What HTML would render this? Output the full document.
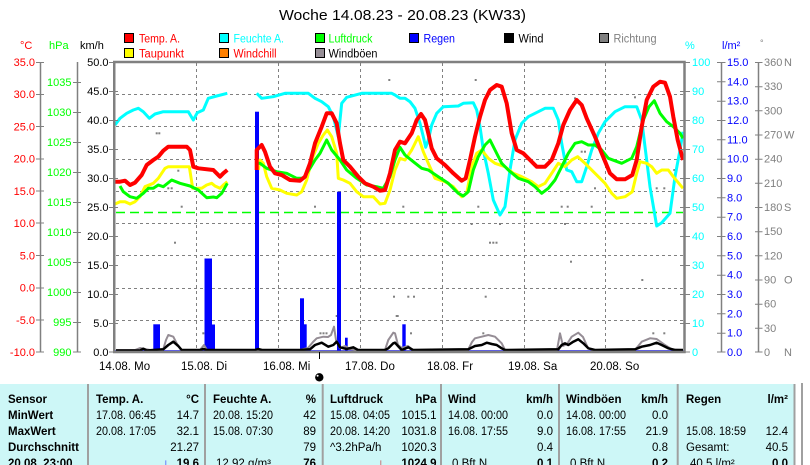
<!DOCTYPE html>
<html><head><meta charset="utf-8"><style>
html,body{margin:0;padding:0;background:#fff;}
body{width:810px;height:465px;overflow:hidden;}
svg{display:block;font-family:"Liberation Sans",Arial,sans-serif;}
</style></head><body>
<svg width="810" height="465" viewBox="0 0 810 465" xmlns="http://www.w3.org/2000/svg">
<rect x="0" y="0" width="810" height="465" fill="#fff"/>
<!-- title -->
<text x="279" y="20" font-size="15" fill="#000" textLength="247" lengthAdjust="spacingAndGlyphs">Woche 14.08.23 - 20.08.23 (KW33)</text>
<!-- legend -->
<g font-size="11.5" stroke-width="1">
<rect x="124.5" y="33.5" width="9" height="9" fill="#ff0000" stroke="#000"/>
<text x="139" y="42.5" fill="#ff0000" textLength="41" lengthAdjust="spacingAndGlyphs">Temp. A.</text>
<rect x="219.5" y="33.5" width="9" height="9" fill="#00ffff" stroke="#000"/>
<text x="233.5" y="42.5" fill="#00ffff" textLength="50.5" lengthAdjust="spacingAndGlyphs">Feuchte A.</text>
<rect x="315.5" y="33.5" width="9" height="9" fill="#00ff00" stroke="#000"/>
<text x="328.5" y="42.5" fill="#00ff00" textLength="44" lengthAdjust="spacingAndGlyphs">Luftdruck</text>
<rect x="409.5" y="33.5" width="9" height="9" fill="#0000ff" stroke="#000"/>
<text x="423.5" y="42.5" fill="#0000ff" textLength="31.5" lengthAdjust="spacingAndGlyphs">Regen</text>
<rect x="504.5" y="33.5" width="9" height="9" fill="#000" stroke="#000"/>
<text x="518.5" y="42.5" fill="#000" textLength="25" lengthAdjust="spacingAndGlyphs">Wind</text>
<rect x="599.5" y="33.5" width="9" height="9" fill="#808080" stroke="#000"/>
<text x="613.5" y="42.5" fill="#808080" textLength="43" lengthAdjust="spacingAndGlyphs">Richtung</text>
<rect x="124.5" y="48.5" width="9" height="9" fill="#ffff00" stroke="#000"/>
<text x="139" y="57.5" fill="#ff0000" textLength="45" lengthAdjust="spacingAndGlyphs">Taupunkt</text>
<rect x="219.5" y="48.5" width="9" height="9" fill="#ff8000" stroke="#000"/>
<text x="233.5" y="57.5" fill="#ff0000" textLength="43" lengthAdjust="spacingAndGlyphs">Windchill</text>
<rect x="315.5" y="48.5" width="9" height="9" fill="#958d95" stroke="#000"/>
<text x="328.5" y="57.5" fill="#000" textLength="49" lengthAdjust="spacingAndGlyphs">Windböen</text>
</g>
<!-- unit labels -->
<g font-size="11">
<text x="20" y="49" fill="#ff0000">°C</text>
<text x="49" y="49" fill="#00ff00">hPa</text>
<text x="80" y="49" fill="#000">km/h</text>
<text x="685" y="49" fill="#00ffff">%</text>
<text x="722" y="49" fill="#0000ff">l/m²</text>
<text x="760" y="46" fill="#808080" font-size="9">°</text>
</g>

<!-- grid -->
<g stroke="#808080" stroke-width="1" stroke-dasharray="3,3">
<line x1="116" y1="94.5" x2="683" y2="94.5"/>
<line x1="116" y1="126.5" x2="683" y2="126.5"/>
<line x1="116" y1="159.5" x2="683" y2="159.5"/>
<line x1="116" y1="191.5" x2="683" y2="191.5"/>
<line x1="116" y1="223.5" x2="683" y2="223.5"/>
<line x1="116" y1="255.5" x2="683" y2="255.5"/>
<line x1="116" y1="288.5" x2="683" y2="288.5"/>
<line x1="116" y1="320.5" x2="683" y2="320.5"/>
<line x1="196.5" y1="63" x2="196.5" y2="351"/>
<line x1="278.5" y1="63" x2="278.5" y2="351"/>
<line x1="360.5" y1="63" x2="360.5" y2="351"/>
<line x1="442.5" y1="63" x2="442.5" y2="351"/>
<line x1="524.5" y1="63" x2="524.5" y2="351"/>
<line x1="605.5" y1="63" x2="605.5" y2="351"/>
</g>
<!-- 1013 hPa line -->
<line x1="116" y1="212.5" x2="683" y2="212.5" stroke="#00ff00" stroke-width="1.5" stroke-dasharray="9,5"/>

<!-- direction dots -->
<g fill="#808080">
<rect x="155.7" y="132.3" width="2" height="2"/><rect x="158.3" y="132.3" width="2" height="2"/>
<rect x="177.3" y="169.7" width="2" height="2"/><rect x="167.3" y="187.3" width="2" height="2"/>
<rect x="170.7" y="187.3" width="2" height="2"/><rect x="180.7" y="205.7" width="2" height="2"/>
<rect x="174" y="241.7" width="2" height="2"/><rect x="314" y="205.7" width="2" height="2"/>
<rect x="388.3" y="79" width="2" height="2"/><rect x="393" y="295.7" width="2" height="2"/>
<rect x="395.7" y="315" width="2" height="2"/><rect x="202.3" y="332.3" width="2" height="2"/>
<rect x="319.5" y="332.3" width="2" height="2"/><rect x="322.5" y="332.3" width="2" height="2"/>
<rect x="325.5" y="332.3" width="2" height="2"/><rect x="335.7" y="315" width="2" height="2"/>
<rect x="474.7" y="79" width="2" height="2"/><rect x="402.3" y="205.7" width="2" height="2"/>
<rect x="477.3" y="205.7" width="2" height="2"/><rect x="470.7" y="223" width="2" height="2"/>
<rect x="499" y="223" width="2" height="2"/><rect x="489" y="241.7" width="2" height="2"/>
<rect x="492.3" y="241.7" width="2" height="2"/><rect x="495.5" y="241.7" width="2" height="2"/>
<rect x="560.7" y="205.7" width="2" height="2"/><rect x="566.7" y="205.7" width="2" height="2"/>
<rect x="590.7" y="205.7" width="2" height="2"/><rect x="564" y="223" width="2" height="2"/>
<rect x="570" y="260.7" width="2" height="2"/><rect x="574" y="97.3" width="2" height="2"/>
<rect x="580.7" y="150.7" width="2" height="2"/><rect x="584" y="150.7" width="2" height="2"/>
<rect x="594" y="187.3" width="2" height="2"/><rect x="634" y="96.3" width="2" height="2"/>
<rect x="641.3" y="279" width="2" height="2"/><rect x="655.7" y="187.3" width="2" height="2"/>
<rect x="663.3" y="187.3" width="2" height="2"/><rect x="673.3" y="169" width="2" height="2"/>
<rect x="407.3" y="295.7" width="2" height="2"/><rect x="413" y="295.7" width="2" height="2"/>
<rect x="484.7" y="295.7" width="2" height="2"/><rect x="396.7" y="315" width="2" height="2"/>
<rect x="410" y="332.3" width="2" height="2"/><rect x="482.3" y="332.3" width="2" height="2"/>
<rect x="652.3" y="332.3" width="2" height="2"/><rect x="663.3" y="332.3" width="2" height="2"/>
</g>

<!-- rain bars -->
<g fill="#0000ff">
<rect x="153.3" y="324.3" width="6.7" height="27.7"/>
<rect x="204.5" y="258.5" width="7.5" height="93.5"/>
<rect x="212" y="324.5" width="3" height="27.5"/>
<rect x="255" y="111.7" width="4" height="240.3"/>
<rect x="300" y="298.3" width="4" height="53.7"/>
<rect x="304" y="324.3" width="2.7" height="27.7"/>
<rect x="337" y="191.7" width="4" height="160.3"/>
<rect x="345" y="337.7" width="2.7" height="14.3"/>
<rect x="402.3" y="324.3" width="3.4" height="27.7"/>
</g>
<line x1="115" y1="351" x2="684" y2="351" stroke="#0000ff" stroke-width="1.5"/>

<!-- gusts -->
<polyline fill="none" stroke="#958d95" stroke-width="2" stroke-linejoin="round" points="116,350 135,350 140,348 145,349 150,350 163,350 166,340 168.3,335 173.3,336.7 177,344 181,350 200,350 204,345 207,350 255,350 300,350 308,348 313,342 316.7,338.3 323.3,336.7 328,337 331,335 334,326.7 336,340 340,348 345,346 350,349 355,350 385,350 388.3,340 393.3,332.7 395,333.3 398,345 402,348 408,346 413,350 468,350 472,342 475,338.3 481.7,336.7 488.3,335 495,336.7 501.7,343.3 505,350 557,350 560,333.3 563,346 567,344 571.7,336.7 578.3,332.7 583,337 588,348 592,350 635,350 641.7,341.7 650,338.3 656.7,339 665,345 672,349.5 683,350"/>
<!-- wind -->
<polyline fill="none" stroke="#000" stroke-width="2.5" stroke-linejoin="round" points="116,350.5 140,350.5 143.3,348.7 146.7,350.5 163.3,349.3 168.3,345 173.3,341.7 178.3,346 181.7,350 200,350 203.3,349 207,350 255,350 258,349 262,350 300,350 310,349.3 315,345 321.7,342.7 328.3,346.7 333.3,345 336.7,341.7 340,347.3 346.7,349 353.3,347.3 358,350 385,350 388.3,348.3 393.3,343.3 395,342.7 398,346 401.7,350 408.3,347.3 413,350 468.3,349.3 475,346 481.7,345 486.7,342.7 491.7,344 496.7,345 501.7,348.3 505,350 558.3,349.3 561.7,345 565,343.3 568.3,345 573.3,341.7 578.3,339.3 583.3,343.3 588.3,348.3 595,350 635,349.3 641.7,346.7 650,345 656.7,342.7 661.7,345 668.3,348.3 675,350 683,350"/>

<!-- humidity -->
<g fill="none" stroke="#00ffff" stroke-width="3" stroke-linejoin="round">
<polyline points="115,125 120,118.3 126.7,113.3 133.3,110 138.3,108.3 143.3,111.7 149.3,118.3 155,114 163.3,111.7 188.3,111.7 193.3,120 197.3,112.7 203.3,110 208.3,98.3 216.7,96 227.3,93.3"/>
<polyline points="256.7,93.3 261.7,98.3 273.3,96.7 285,93.3 308.3,93.3 315,98.3 321.7,101.7 328.3,106.7 333.3,116.7 338.3,136.7 341.7,103.3 346.7,97.3 361.7,93.3 391.7,93.3 395,95 400,98.3 405,98.3 410,101.7 415,108.3 420,123.3 423.3,136.7 425.7,147.3 428.3,140 431.7,125 436.7,113.3 443.3,106.7 458.3,106 463.3,103.3 473.3,102.7 476.7,110 480,126.7 483.3,150 488.3,173.3 493.3,200 500,215 505,206.7 510,170 515,140 521.7,123.3 528.3,116.7 538.3,111.7 545,108.3 553.3,108.3 558.3,120 561.7,143.3 566.7,170 571.7,171.7 576.7,181.7 581.7,181.7 586.7,166.7 591.7,150 598.3,133.3 605,121.7 615,111.7 625,106.7 636.7,106.7 641.7,120 645,146.7 650,186.7 656.7,226 661.7,222.7 670,213.3 675,176.7 680,150 683,131.7"/>
</g>
<!-- dew point -->
<g fill="none" stroke="#ffff00" stroke-width="3" stroke-linejoin="round">
<polyline points="115,204 120,201.7 125,201.7 130,204 135,201.7 140,196.7 145,186.7 153.3,183.3 158.3,178.3 165,168.3 168.3,166.7 189.3,166.7 192.7,188.3 201.7,188.3 206.7,185 211.7,183.3 215,186 220,188.3 223.3,185 227.3,181.7"/>
<polyline points="258.3,170 260,160 263.3,163.3 266.7,176.7 271.7,188.3 280,190 286.7,193.3 296.7,195 301.7,191.7 306.7,180 311.7,160 318.3,143.3 323.3,135 327.3,130 331.7,136.7 336.7,153.3 338.3,178.3 343.3,180 350,183.3 356.7,191.7 363.3,196.7 373.3,196.7 380,204 385,203.3 390,190 395,170 400,158.3 405,160 411.7,150 418.3,136.7 423.3,151.7 428.3,163.3 435,178.3 445,181.7 453.3,186.7 461.7,196.7 466.7,193.3 471.7,166.7 476.7,153.3 481.7,150 488.3,158.3 495,163.3 505,166.7 513.3,173.3 521.7,176.7 531.7,181.7 538.3,186.7 545,183.3 551.7,173.3 558.3,163.3 565,166.7 571.7,160 577.7,156.7 585,163.3 595,173.3 605,183.3 611.7,193.3 616.7,198.3 625,196.7 632.3,191.7 636.7,173.3 640,161.7 646.7,163.3 651.7,166.7 656.7,173.3 661.7,170 668.3,170 673.3,176.7 683,188.3"/>
</g>
<!-- pressure -->
<g fill="none" stroke="#00ff00" stroke-width="3" stroke-linejoin="round">
<polyline points="120,186 123.3,191.7 130,196.7 136.7,198.3 143.3,193.3 148.3,188.3 153.3,188.3 158.3,185 163.3,186.7 171.7,180 180,183.3 190,186 198.3,190 206.7,197.7 213.3,197 216.7,197.7 221.7,193.3 227.3,183.3"/>
<polyline points="258,163.3 260,163.3 266.7,168.3 276.7,171.7 286.7,173.3 296.7,178.3 303.3,178.3 310,168.3 315,160 320,153.3 326.7,140 331.7,150 340,160 346.7,170 356.7,178.3 366.7,185 376.7,186.7 383.3,188.3 390,176.7 395,160 400,147.3 405,155 413.3,161.7 421.7,168.3 428.3,170 438.3,176.7 448.3,183.3 458.3,193.3 463.3,196 468.3,191.7 473.3,170 478.3,156.7 485,145 490,140 495,150 501.7,163.3 508.3,170 518.3,178.3 528.3,181.7 535,186.7 541.7,193.3 548.3,188.3 555,180 561.7,166.7 568.3,153.3 575,143.3 581.7,141.7 588.3,145 595,145 601.7,150 608.3,158.3 621.7,163.3 631.7,158.3 636.7,146.7 643.3,120 649,106.7 654.3,100.7 660,113.3 666.7,121.7 673.3,126.7 680,133.3 683,138.3"/>
</g>
<!-- temperature -->
<g fill="none" stroke="#ff0000" stroke-width="4" stroke-linejoin="round">
<polyline points="115,181.7 120,181.7 125,180.7 130,185 135,182.7 141.7,175 146.7,165 153.3,160 158.3,156.7 163.3,150.7 168.3,146.7 186.7,146.7 190,150 193.3,166.7 198.3,168.3 213.3,170 220,176.7 223.3,173.3 227.3,170"/>
<polyline points="256.7,170 256.7,150 261.7,145 265,151.7 270,166.7 275,173.3 281.7,175 290,180 300,180.7 305,176.7 310,163.3 315,143.3 321.7,126.7 326.7,113.3 331.7,113.3 336.7,123.3 340,143.3 343.3,160 350,166.7 358.3,176.7 365,183.3 373.3,186.7 380,190.7 385,190 390,173.3 395,150 400,141.7 405,143.3 411.7,133.3 416.7,120 421,114 425,120 428.3,133.3 431.7,148.3 436.7,158.3 445,165 453.3,173.3 461.7,180.7 465.7,178.3 470,160 475,136.7 480,116.7 485,100 490,90 496.7,85 501.7,86.7 506.7,103.3 511.7,133.3 516.7,150 523.3,153.3 530,160 536.7,166.7 545,166.7 551.7,160 558.3,143.3 563.3,125 570,110 576.7,100 581.7,105 586.7,118.3 595,136.7 601.7,153.3 610,173.3 616.7,179.3 625,179.3 632.3,175 636.7,160 641.7,126.7 646.7,100 653.3,86.7 660,81.7 665,82.7 670,96.7 673.3,116.7 677.7,140 683,160"/>
</g>

<!-- plot frame -->
<rect x="114.25" y="62" width="570.25" height="290" fill="none" stroke="#808080" stroke-width="2.5"/>

<!-- left axes -->
<g stroke="#808080" stroke-width="1.5">
<line x1="40.5" y1="62" x2="40.5" y2="352"/>
<line x1="77.5" y1="62" x2="77.5" y2="352"/>
<line x1="721.5" y1="62" x2="721.5" y2="352"/>
<line x1="758.5" y1="62" x2="758.5" y2="352"/>
</g>
<g stroke="#808080" stroke-width="1">
<!-- C ticks -->
<path d="M36 62.5H44M36 94.5H44M36 126.5H44M36 159H44M36 191H44M36 223H44M36 255.5H44M36 288H44M36 320H44M36 352H44"/>
<!-- hPa ticks -->
<path d="M73 82.5H81M73 112.5H81M73 142.5H81M73 172.5H81M73 202.5H81M73 232.5H81M73 262.5H81M73 292.5H81M73 322.5H81M73 352H81"/>
<!-- km/h ticks -->
<path d="M109 62.5H118M109 91.5H118M109 120.5H118M109 149.5H118M109 178.5H118M109 207.5H118M109 236.5H118M109 265.5H118M109 294.5H118M109 323.5H118M109 352H118"/>
<!-- % ticks -->
<path d="M680 62.5H690M680 91.5H690M680 120.5H690M680 149.5H690M680 178.5H690M680 207.5H690M680 236.5H690M680 265.5H690M680 294.5H690M680 323.5H690M680 352H690"/>
<!-- l/m2 ticks -->
<path d="M717 62.5H725.5M717 81.8H725.5M717 101.2H725.5M717 120.5H725.5M717 139.8H725.5M717 159.2H725.5M717 178.5H725.5M717 197.8H725.5M717 217.2H725.5M717 236.5H725.5M717 255.8H725.5M717 275.2H725.5M717 294.5H725.5M717 313.8H725.5M717 333.2H725.5M717 352H725.5"/>
<!-- deg ticks -->
<path d="M755 62.5H762.5M755 86.7H762.5M755 110.8H762.5M755 135H762.5M755 159.2H762.5M755 183.3H762.5M755 207.5H762.5M755 231.7H762.5M755 255.8H762.5M755 280H762.5M755 304.2H762.5M755 328.3H762.5M755 352H762.5"/>
</g>
<g font-size="11" fill="#ff0000" text-anchor="end">
<text x="35" y="66">35.0</text><text x="35" y="98.2">30.0</text><text x="35" y="130.4">25.0</text>
<text x="35" y="162.7">20.0</text><text x="35" y="194.9">15.0</text><text x="35" y="227.1">10.0</text>
<text x="35" y="259.3">5.0</text><text x="35" y="291.6">0.0</text><text x="35" y="323.8">-5.0</text>
<text x="35" y="356">-10.0</text>
</g>
<g font-size="11" fill="#00ff00" text-anchor="end">
<text x="71.5" y="86">1035</text><text x="71.5" y="116">1030</text><text x="71.5" y="146">1025</text>
<text x="71.5" y="176">1020</text><text x="71.5" y="206">1015</text><text x="71.5" y="236">1010</text>
<text x="71.5" y="266">1005</text><text x="71.5" y="296">1000</text><text x="71.5" y="326">995</text>
<text x="71.5" y="356">990</text>
</g>
<g font-size="11" fill="#000" text-anchor="end">
<text x="108.5" y="66">50.0</text><text x="108.5" y="95">45.0</text><text x="108.5" y="124">40.0</text>
<text x="108.5" y="153">35.0</text><text x="108.5" y="182">30.0</text><text x="108.5" y="211">25.0</text>
<text x="108.5" y="240">20.0</text><text x="108.5" y="269">15.0</text><text x="108.5" y="298">10.0</text>
<text x="108.5" y="327">5.0</text><text x="108.5" y="356">0.0</text>
</g>
<g font-size="11" fill="#00ffff">
<text x="692" y="66">100</text><text x="692" y="95">90</text><text x="692" y="124">80</text>
<text x="692" y="153">70</text><text x="692" y="182">60</text><text x="692" y="211">50</text>
<text x="692" y="240">40</text><text x="692" y="269">30</text><text x="692" y="298">20</text>
<text x="692" y="327">10</text><text x="692" y="356">0</text>
</g>
<g font-size="11" fill="#0000ff">
<text x="727" y="66">15.0</text><text x="727" y="85.3">14.0</text><text x="727" y="104.7">13.0</text>
<text x="727" y="124">12.0</text><text x="727" y="143.3">11.0</text><text x="727" y="162.7">10.0</text>
<text x="727" y="182">9.0</text><text x="727" y="201.3">8.0</text><text x="727" y="220.7">7.0</text>
<text x="727" y="240">6.0</text><text x="727" y="259.3">5.0</text><text x="727" y="278.7">4.0</text>
<text x="727" y="298">3.0</text><text x="727" y="317.3">2.0</text><text x="727" y="336.7">1.0</text>
<text x="727" y="356">0.0</text>
</g>
<g font-size="11" fill="#808080">
<text x="764" y="66">360</text><text x="784" y="66">N</text>
<text x="764" y="90.2">330</text><text x="764" y="114.3">300</text>
<text x="764" y="138.5">270</text><text x="784" y="138.5">W</text>
<text x="764" y="162.7">240</text><text x="764" y="186.8">210</text>
<text x="764" y="211">180</text><text x="784" y="211">S</text>
<text x="764" y="235.2">150</text><text x="764" y="259.3">120</text>
<text x="764" y="283.5">90</text><text x="784" y="283.5">O</text>
<text x="764" y="307.7">60</text><text x="764" y="331.8">30</text>
<text x="764" y="356">0</text><text x="784" y="356">N</text>
</g>

<!-- x labels -->
<g font-size="11.5" fill="#000">
<text x="99" y="370">14.08. Mo</text>
<text x="181" y="370">15.08. Di</text>
<text x="263" y="370">16.08. Mi</text>
<text x="345" y="370">17.08. Do</text>
<text x="427" y="370">18.08. Fr</text>
<text x="508" y="370">19.08. Sa</text>
<text x="590" y="370">20.08. So</text>
</g>
<line x1="319.5" y1="352" x2="319.5" y2="359" stroke="#000" stroke-width="1"/>
<circle cx="319.3" cy="377.3" r="4.2" fill="#000"/>
<circle cx="317.6" cy="375.8" r="1" fill="#fff"/>

<!-- table -->
<rect x="0" y="384" width="794" height="81" fill="#cdf7f7"/>
<g stroke="#a0a0a0" stroke-width="2">
<line x1="88" y1="384" x2="88" y2="465"/>
<line x1="205" y1="384" x2="205" y2="465"/>
<line x1="322.7" y1="384" x2="322.7" y2="465"/>
<line x1="441" y1="384" x2="441" y2="465"/>
<line x1="559" y1="384" x2="559" y2="465"/>
<line x1="677.7" y1="384" x2="677.7" y2="465"/>
<line x1="794.5" y1="384" x2="794.5" y2="465"/>
<line x1="802" y1="383" x2="802" y2="465"/>
</g>
<g font-size="11.5" fill="#000" font-weight="bold">
<text x="8" y="403">Sensor</text>
<text x="8" y="419">MinWert</text>
<text x="8" y="435">MaxWert</text>
<text x="8" y="451">Durchschnitt</text>
<text x="8" y="467">20.08.  23:00</text>
<text x="96" y="403">Temp. A.</text>
<text x="213" y="403">Feuchte A.</text>
<text x="330" y="403">Luftdruck</text>
<text x="448" y="403">Wind</text>
<text x="566" y="403">Windböen</text>
<text x="686" y="403">Regen</text>
</g>
<g font-size="11.5" fill="#000" font-weight="bold" text-anchor="end">
<text x="199" y="403">°C</text>
<text x="316" y="403">%</text>
<text x="436.5" y="403">hPa</text>
<text x="553" y="403">km/h</text>
<text x="668" y="403">km/h</text>
<text x="788" y="403">l/m²</text>
<text x="199" y="467">19.6</text>
<text x="316" y="467">76</text>
<text x="436.5" y="467">1024.9</text>
<text x="553" y="467">0.1</text>
<text x="668" y="467">0.2</text>
<text x="788" y="467">0.0</text>
</g>
<g font-size="11.5" fill="#000" xml:space="preserve">
<text x="96" y="419" textLength="60" lengthAdjust="spacingAndGlyphs">17.08.  06:45</text>
<text x="96" y="435" textLength="60" lengthAdjust="spacingAndGlyphs">20.08.  17:05</text>
<text x="213" y="419" textLength="60" lengthAdjust="spacingAndGlyphs">20.08.  15:20</text>
<text x="213" y="435" textLength="60" lengthAdjust="spacingAndGlyphs">15.08.  07:30</text>
<text x="216" y="467">12.92 g/m³</text>
<text x="330" y="419" textLength="60" lengthAdjust="spacingAndGlyphs">15.08.  04:05</text>
<text x="330" y="435" textLength="60" lengthAdjust="spacingAndGlyphs">20.08.  14:20</text>
<text x="330" y="451">^3.2hPa/h</text>
<text x="448" y="419" textLength="60" lengthAdjust="spacingAndGlyphs">14.08.  00:00</text>
<text x="448" y="435" textLength="60" lengthAdjust="spacingAndGlyphs">16.08.  17:55</text>
<text x="452" y="467">0 Bft N</text>
<text x="566" y="419" textLength="60" lengthAdjust="spacingAndGlyphs">14.08.  00:00</text>
<text x="566" y="435" textLength="60" lengthAdjust="spacingAndGlyphs">16.08.  17:55</text>
<text x="570" y="467">0 Bft N</text>
<text x="686" y="435" textLength="60" lengthAdjust="spacingAndGlyphs">15.08.  18:59</text>
<text x="686" y="451">Gesamt:</text>
<text x="690" y="467">40.5 l/m²</text>
</g>
<g font-size="11.5" fill="#000" text-anchor="end">
<text x="199" y="419">14.7</text>
<text x="199" y="435">32.1</text>
<text x="199" y="451">21.27</text>
<text x="316" y="419">42</text>
<text x="316" y="435">89</text>
<text x="316" y="451">79</text>
<text x="436.5" y="419">1015.1</text>
<text x="436.5" y="435">1031.8</text>
<text x="436.5" y="451">1020.3</text>
<text x="553" y="419">0.0</text>
<text x="553" y="435">9.0</text>
<text x="553" y="451">0.4</text>
<text x="668" y="419">0.0</text>
<text x="668" y="435">21.9</text>
<text x="668" y="451">0.8</text>
<text x="788" y="435">12.4</text>
<text x="788" y="451">40.5</text>
</g>
<text x="163" y="467" font-size="12" font-weight="bold" fill="#0000ff">↓</text>
<text x="378" y="467" font-size="12" font-weight="bold" fill="#c00000">↓</text>
</svg>
</body></html>
